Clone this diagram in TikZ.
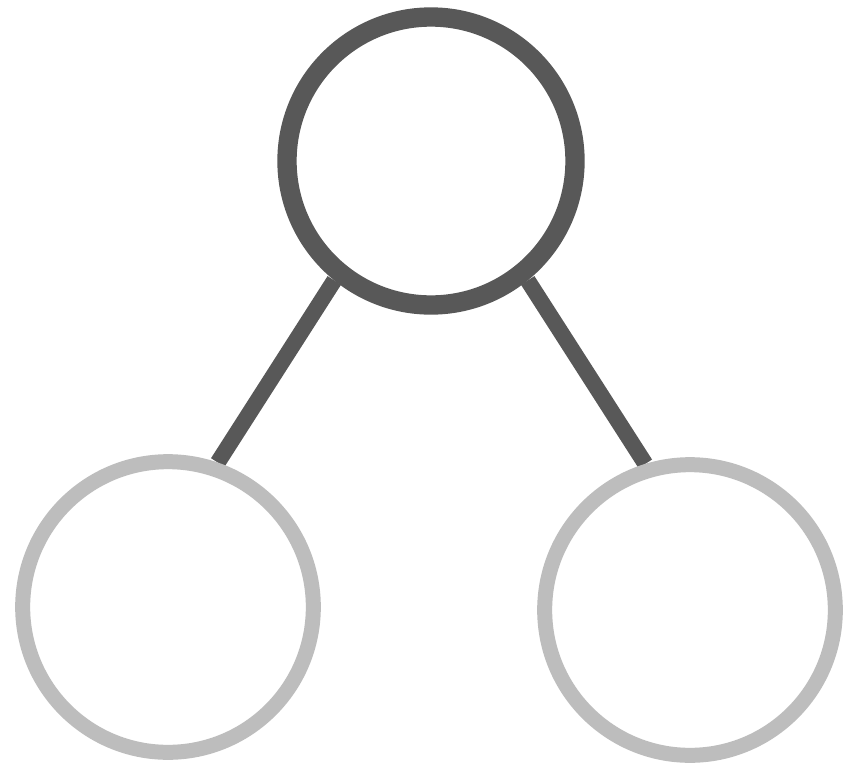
\documentclass[tikz,border=0pt]{standalone}
\usetikzlibrary{backgrounds}
\definecolor{darkc}{HTML}{585858}
\definecolor{lightc}{HTML}{BDBDBD}
\begin{document}
\begin{tikzpicture}[x=0.75pt,y=-0.75pt,
  topnode/.style={circle,draw=darkc,line width=14.5pt,inner sep=0pt,minimum size=216pt,fill=white},
  leafnode/.style={circle,draw=lightc,line width=11.25pt,inner sep=0pt,minimum size=218pt,fill=white},
  edge/.style={draw=darkc,line width=12pt}]
\useasboundingbox (0,0) rectangle (849,768);
\node[topnode] (top) at (431,161) {};
\node[leafnode] (bl) at (168,607) {};
\node[leafnode] (br) at (690,610) {};
\begin{scope}[on background layer]
\draw[edge] (top.231) -- (bl.71);
\draw[edge] (top.309) -- (br.107.6);
\end{scope}
\end{tikzpicture}
\end{document}
